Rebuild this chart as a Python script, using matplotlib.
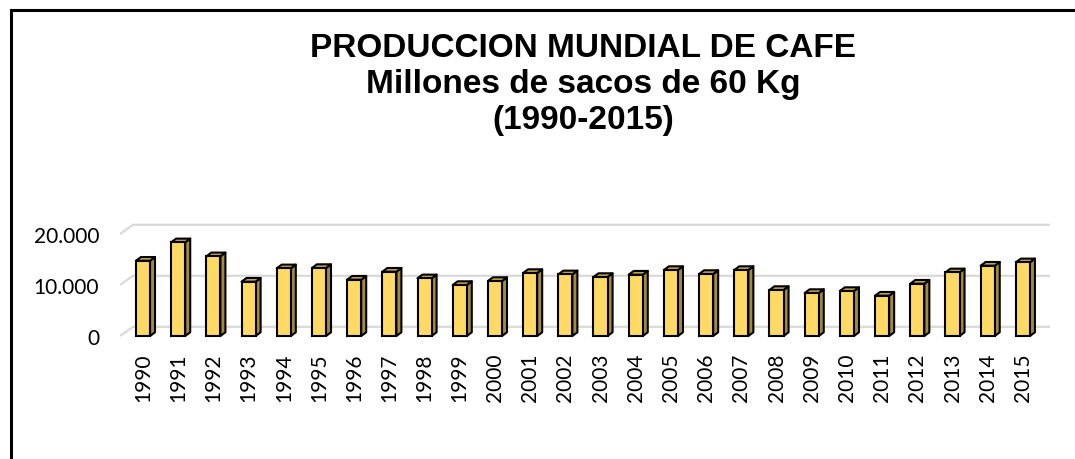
import numpy as np
import matplotlib.pyplot as plt
from matplotlib.patches import Polygon
from matplotlib.lines import Line2D

years = ['1990', '1991', '1992', '1993', '1994', '1995', '1996', '1997', '1998',
         '1999', '2000', '2001', '2002', '2003', '2004', '2005', '2006', '2007',
         '2008', '2009', '2010', '2011', '2012', '2013', '2014', '2015']
production = [14760, 18370, 15630, 10650, 13270, 13330, 11040, 12610, 11310,
              10000, 10780, 12350, 12090, 11570, 12030, 12940, 12160, 12940,
              9020, 8430, 8820, 7910, 10260, 12480, 13790, 14450]
yticks = [0, 10000, 20000]
ytick_labels = ['0', '10.000', '20.000']

FRONT = '#FFD966'
SIDE = '#A38B3E'
TOP = '#C4A64A'


def main():
    fig = plt.figure(figsize=(10.75, 4.6), dpi=100)
    W, H = 1075.0, 460.0
    ax = fig.add_axes([120 / W, (H - 345) / H, 930 / W, 130 / H])

    x = np.arange(len(years))
    ax.set_xlim(-0.653, 25.77)
    ax.set_ylim(-1569, 23922)

    # 3d depth offsets
    w = 0.40
    dx = 0.142
    dy = 725

    # back wall gridlines with a slanted piece on the floor edge
    gx0, gx1, gx2 = -0.653, -0.284, 25.77
    for v in yticks:
        ax.plot([gx0, gx1, gx2], [v, v + 1800, v + 1800], color='#D9D9D9',
                lw=1.6, zorder=1, solid_capstyle='butt')

    for xi, v in zip(x, production):
        ax.bar(xi, v, width=w, color=FRONT, edgecolor='black', lw=1.5, zorder=3)
        side = Polygon([(xi + w / 2, 0), (xi + w / 2 + dx, dy),
                        (xi + w / 2 + dx, v + dy), (xi + w / 2, v)],
                       closed=True, facecolor=SIDE, edgecolor='black', lw=1.5,
                       zorder=2, joinstyle='round')
        top = Polygon([(xi - w / 2, v), (xi + w / 2, v),
                       (xi + w / 2 + dx, v + dy), (xi - w / 2 + dx, v + dy)],
                      closed=True, facecolor=TOP, edgecolor='black', lw=1.5,
                      zorder=2, joinstyle='round')
        ax.add_patch(side)
        ax.add_patch(top)

    ax.set_xticks(x)
    ax.set_xticklabels(years, rotation=90, fontsize=15, family='Lato')
    ax.set_yticks(yticks)
    ax.set_yticklabels(ytick_labels, fontsize=15, family='Lato')
    ax.tick_params(axis='both', length=0)
    ax.tick_params(axis='y', pad=15)
    ax.tick_params(axis='x', pad=6)
    for s in ax.spines.values():
        s.set_visible(False)
    ax.patch.set_alpha(0)

    fig.text(583 / W, 1 - 33 / H,
             'PRODUCCION MUNDIAL DE CAFE\nMillones de sacos de 60 Kg\n(1990-2015)',
             ha='center', va='top', fontsize=24, fontweight='bold',
             family='Liberation Sans', linespacing=1.2)

    # chart border (right and bottom edges fall outside the picture)
    fig.add_artist(Line2D([11 / W, 11 / W], [0, 1 - 11 / H], color='black',
                          lw=2.2, transform=fig.transFigure))
    fig.add_artist(Line2D([11 / W, 1], [1 - 11 / H, 1 - 11 / H], color='black',
                          lw=2.2, transform=fig.transFigure))

    fig.savefig('out.png', dpi=100)


if __name__ == "__main__":
    main()
